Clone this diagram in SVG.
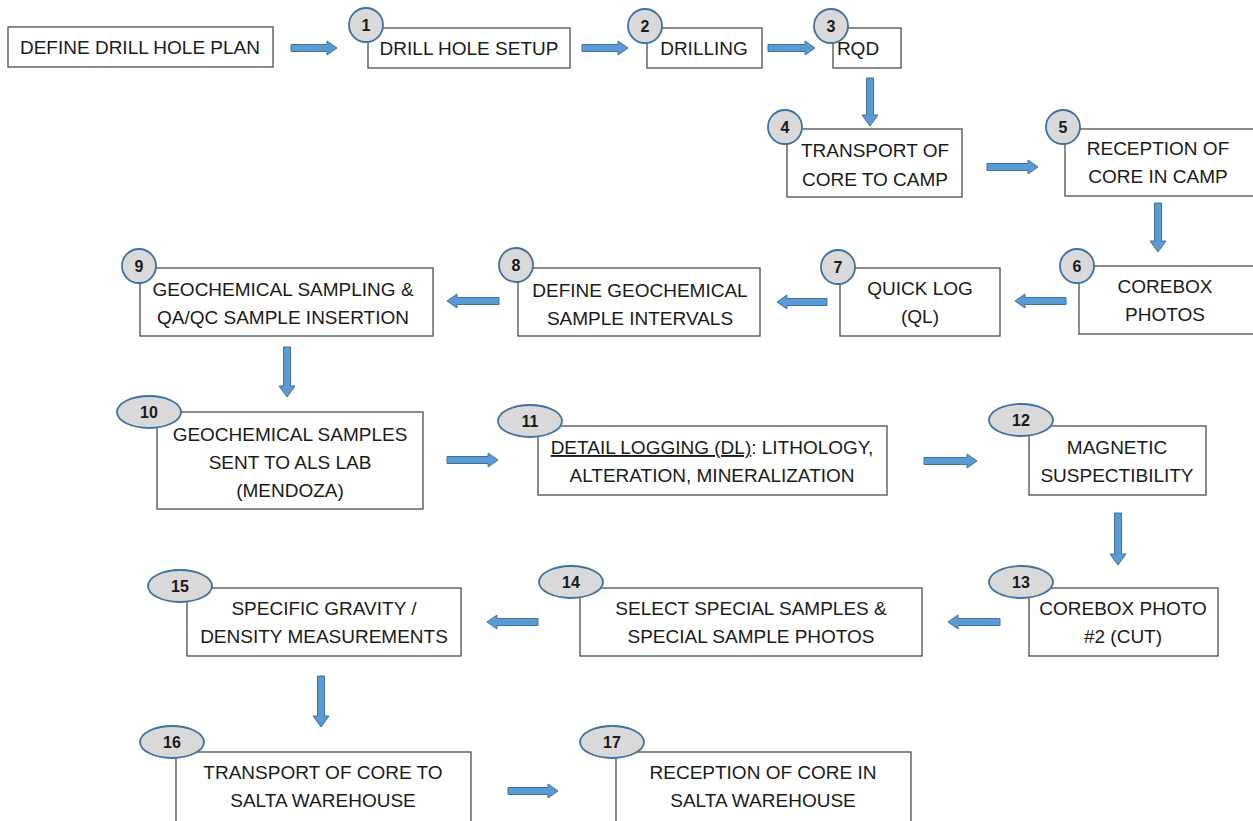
<svg xmlns="http://www.w3.org/2000/svg" width="1253" height="821" viewBox="0 0 1253 821">
<style>
.box{fill:#fff;stroke:#4d4d4d;stroke-width:1.3}
.t{font-family:"Liberation Sans",Arial,sans-serif;font-size:19px;fill:#1a1a1a;text-anchor:middle}
.badge{fill:#d9d9d9;stroke:#41719c;stroke-width:1.8}
.n{font-family:"Liberation Sans",Arial,sans-serif;font-size:16px;font-weight:bold;fill:#1a1a1a;text-anchor:middle}
.arr{fill:#5b9bd5;stroke:#41719c;stroke-width:1}
</style>
<rect width="1253" height="821" fill="#fff"/>
<g id="connectors">
<path class="arr" d="M291,44.5H327V41L337,48L327,55V51.5H291Z"/>
<path class="arr" d="M582,44.5H618V41L628,48L618,55V51.5H582Z"/>
<path class="arr" d="M768,44.5H805V41L815,48L805,55V51.5H768Z"/>
<path class="arr" d="M866.5,78V115H862L870,126L878,115H873.5V78Z"/>
<path class="arr" d="M987,163.5H1028V160L1038,167L1028,174V170.5H987Z"/>
<path class="arr" d="M1154.5,203V241H1150L1158,252L1166,241H1161.5V203Z"/>
<path class="arr" d="M1066,297.5H1025V294L1015,301L1025,308V304.5H1066Z"/>
<path class="arr" d="M827,298.5H787V295L777,302L787,309V305.5H827Z"/>
<path class="arr" d="M499,297.5H457V294L447,301L457,308V304.5H499Z"/>
<path class="arr" d="M283.5,347V386H279L287,397L295,386H290.5V347Z"/>
<path class="arr" d="M447,456.5H488V453L498,460L488,467V463.5H447Z"/>
<path class="arr" d="M924,457.5H967V454L977,461L967,468V464.5H924Z"/>
<path class="arr" d="M1114.5,513V554H1110L1118,565L1126,554H1121.5V513Z"/>
<path class="arr" d="M1000,618.5H958V615L948,622L958,629V625.5H1000Z"/>
<path class="arr" d="M538,618.5H497V615L487,622L497,629V625.5H538Z"/>
<path class="arr" d="M317.5,676V716H313L321,727L329,716H324.5V676Z"/>
<path class="arr" d="M508,787.5H548V784L558,791L548,798V794.5H508Z"/>
</g>
<g id="n0"><rect class="box" x="8" y="27" width="265" height="40"/><text class="t" x="140" y="54">DEFINE DRILL HOLE PLAN</text></g>
<g id="n1"><rect class="box" x="368" y="28" width="202" height="40"/><text class="t" x="469" y="55">DRILL HOLE SETUP</text><circle class="badge" cx="366" cy="25" r="17"/><text class="n" x="366" y="31">1</text></g>
<g id="n2"><rect class="box" x="647" y="28" width="115" height="40"/><text class="t" x="704" y="55">DRILLING</text><circle class="badge" cx="645" cy="26" r="17"/><text class="n" x="645" y="32">2</text></g>
<g id="n3"><rect class="box" x="833" y="28" width="68" height="40"/><text class="t" x="858" y="55">RQD</text><circle class="badge" cx="831" cy="26" r="17"/><text class="n" x="831" y="32">3</text></g>
<g id="n4"><rect class="box" x="787" y="129" width="175" height="68"/><text class="t" x="875" y="157">TRANSPORT OF</text><text class="t" x="875" y="186">CORE TO CAMP</text><circle class="badge" cx="785" cy="127" r="17"/><text class="n" x="785" y="133">4</text></g>
<g id="n5"><rect class="box" x="1065" y="129" width="200" height="67"/><text class="t" x="1158" y="155">RECEPTION OF</text><text class="t" x="1158" y="183">CORE IN CAMP</text><circle class="badge" cx="1063" cy="127" r="17"/><text class="n" x="1063" y="133">5</text></g>
<g id="n6"><rect class="box" x="1079" y="266" width="190" height="68"/><text class="t" x="1165" y="293">COREBOX</text><text class="t" x="1165" y="321">PHOTOS</text><circle class="badge" cx="1077" cy="266" r="17"/><text class="n" x="1077" y="272">6</text></g>
<g id="n7"><rect class="box" x="840" y="268" width="160" height="68"/><text class="t" x="920" y="295">QUICK LOG</text><text class="t" x="920" y="323">(QL)</text><circle class="badge" cx="838" cy="267" r="17"/><text class="n" x="838" y="273">7</text></g>
<g id="n8"><rect class="box" x="518" y="268" width="242" height="68"/><text class="t" x="640" y="297">DEFINE GEOCHEMICAL</text><text class="t" x="640" y="325">SAMPLE INTERVALS</text><circle class="badge" cx="516" cy="265" r="17"/><text class="n" x="516" y="271">8</text></g>
<g id="n9"><rect class="box" x="140" y="268" width="293" height="68"/><text class="t" x="283" y="296">GEOCHEMICAL SAMPLING &amp;</text><text class="t" x="283" y="324">QA/QC SAMPLE INSERTION</text><circle class="badge" cx="139" cy="266" r="17"/><text class="n" x="139" y="272">9</text></g>
<g id="n10"><rect class="box" x="157" y="412" width="266" height="97"/><text class="t" x="290" y="441">GEOCHEMICAL SAMPLES</text><text class="t" x="290" y="469">SENT TO ALS LAB</text><text class="t" x="290" y="497">(MENDOZA)</text><ellipse class="badge" cx="149" cy="412" rx="32" ry="16"/><text class="n" x="149" y="418">10</text></g>
<g id="n11"><rect class="box" x="538" y="426" width="349" height="69"/><text class="t" x="712" y="454"><tspan text-decoration="underline">DETAIL LOGGING (DL)</tspan>: LITHOLOGY,</text><text class="t" x="712" y="482">ALTERATION, MINERALIZATION</text><ellipse class="badge" cx="530" cy="421" rx="32" ry="16"/><text class="n" x="530" y="427">11</text></g>
<g id="n12"><rect class="box" x="1029" y="426" width="177" height="69"/><text class="t" x="1117" y="454">MAGNETIC</text><text class="t" x="1117" y="482">SUSPECTIBILITY</text><ellipse class="badge" cx="1021" cy="420" rx="32" ry="16"/><text class="n" x="1021" y="426">12</text></g>
<g id="n13"><rect class="box" x="1029" y="588" width="189" height="68"/><text class="t" x="1123" y="615">COREBOX PHOTO</text><text class="t" x="1123" y="643">#2 (CUT)</text><ellipse class="badge" cx="1021" cy="582" rx="32" ry="16"/><text class="n" x="1021" y="588">13</text></g>
<g id="n14"><rect class="box" x="580" y="588" width="342" height="68"/><text class="t" x="751" y="615">SELECT SPECIAL SAMPLES &amp;</text><text class="t" x="751" y="643">SPECIAL SAMPLE PHOTOS</text><ellipse class="badge" cx="571" cy="582" rx="32" ry="16"/><text class="n" x="571" y="588">14</text></g>
<g id="n15"><rect class="box" x="187" y="588" width="274" height="68"/><text class="t" x="324" y="615">SPECIFIC GRAVITY /</text><text class="t" x="324" y="643">DENSITY MEASUREMENTS</text><ellipse class="badge" cx="180" cy="586" rx="32" ry="16"/><text class="n" x="180" y="592">15</text></g>
<g id="n16"><rect class="box" x="176" y="752" width="295" height="80"/><text class="t" x="323" y="779">TRANSPORT OF CORE TO</text><text class="t" x="323" y="807">SALTA WAREHOUSE</text><ellipse class="badge" cx="172" cy="742" rx="32" ry="16"/><text class="n" x="172" y="748">16</text></g>
<g id="n17"><rect class="box" x="616" y="752" width="295" height="80"/><text class="t" x="763" y="779">RECEPTION OF CORE IN</text><text class="t" x="763" y="807">SALTA WAREHOUSE</text><ellipse class="badge" cx="612" cy="742" rx="32" ry="16"/><text class="n" x="612" y="748">17</text></g>
</svg>
